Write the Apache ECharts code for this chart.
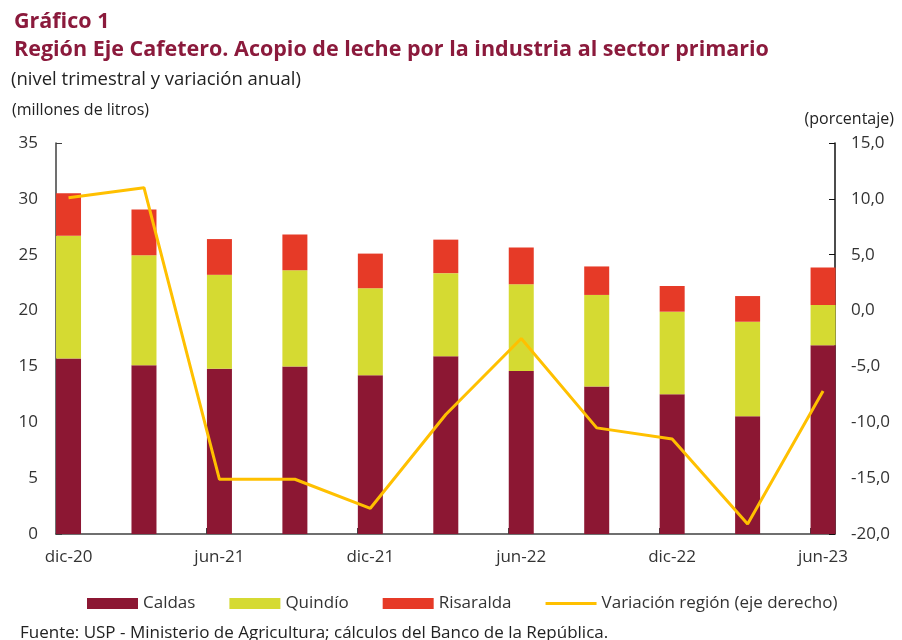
<!DOCTYPE html>
<html>
<head>
<meta charset="utf-8">
<script src="https://cdn.jsdelivr.net/npm/echarts@6/dist/echarts.min.js"></script>
<style>
html,body{margin:0;padding:0;background:#fff;}
#c{width:902px;height:640px;}
</style>
</head>
<body>
<div id="c"></div>
<script>
const categories = ['dic-20','mar-21','jun-21','sep-21','dic-21','mar-22','jun-22','sep-22','dic-22','mar-23','jun-23'];
const labelIdx = [0, 2, 4, 6, 8, 10];
const caldas = [15.7, 15.1, 14.8, 15.0, 14.2, 15.9, 14.6, 13.2, 12.5, 10.55, 16.9];
const quindio = [11.0, 9.85, 8.4, 8.6, 7.8, 7.45, 7.75, 8.2, 7.4, 8.45, 3.6];
const risaralda = [3.8, 4.1, 3.2, 3.2, 3.1, 3.0, 3.3, 2.55, 2.3, 2.3, 3.35];
const variacion = [10.1, 11.0, -15.1, -15.1, -17.7, -9.3, -2.5, -10.5, -11.5, -19.1, -7.2];

const FONT = '"Open Sans", Lato, sans-serif';
const halfBar = 0.17;
const TITLE_COLOR = '#8B1A3C';

const gridTop = 143, gridBottom = 106;
const chart = echarts.init(document.getElementById('c'), null, {renderer: 'canvas'});
chart.setOption({
  backgroundColor: '#fff',
  animation: false,
  title: [
    {text: 'Gráfico 1', left: 9, top: 6, textStyle: {fontFamily: FONT, fontWeight: 'bold', fontSize: 21.5, color: TITLE_COLOR}},
    {text: 'Región Eje Cafetero. Acopio de leche por la industria al sector primario', left: 9, top: 34, textStyle: {fontFamily: FONT, fontWeight: 'bold', fontSize: 21.5, color: TITLE_COLOR}},
    {text: '(nivel trimestral y variación anual)', left: 6, top: 65, textStyle: {fontFamily: FONT, fontWeight: 'normal', fontSize: 18.5, color: '#222'}},
    {text: '(millones de litros)', left: 7, top: 97, textStyle: {fontFamily: FONT, fontWeight: 'normal', fontSize: 16, color: '#222'}},
    {text: '(porcentaje)', right: 3, top: 106, textStyle: {fontFamily: FONT, fontWeight: 'normal', fontSize: 16, color: '#222'}},
    {text: 'Fuente: USP - Ministerio de Agricultura; cálculos del Banco de la República.', left: 15, top: 620, textStyle: {fontFamily: FONT, fontWeight: 'normal', fontSize: 17, color: '#222'}}
  ],
  legend: {
    left: 82, top: 590,
    itemWidth: 51, itemHeight: 11, itemGap: 34,
    textStyle: {fontFamily: FONT, fontSize: 17, color: '#333'},
    data: [
      {name: 'Caldas', icon: 'rect'},
      {name: 'Quindío', icon: 'rect'},
      {name: 'Risaralda', icon: 'rect'},
      {name: 'Variación región (eje derecho)', icon: 'path://M0 0 H17 V1 H0 Z', symbolKeepAspect: true}
    ]
  },
  grid: [
    {left: 56, right: 67, top: gridTop, bottom: gridBottom, containLabel: false},
    {left: 30.8, right: 41.2, top: gridTop, bottom: gridBottom, containLabel: false}
  ],
  xAxis: [
    {
      gridIndex: 0,
      type: 'value',
      min: -0.1657, max: 10.16,
      splitLine: {show: false},
      axisLine: {show: true, onZero: false, lineStyle: {color: '#404040', width: 1.5}},
      axisTick: {show: true, inside: true, length: 6, customValues: labelIdx.map(i => i - halfBar), lineStyle: {color: '#404040'}},
      axisLabel: {customValues: labelIdx, formatter: v => categories[Math.round(v)], margin: 15, fontFamily: FONT, fontSize: 17, color: '#333'}
    },
    {
      gridIndex: 1,
      type: 'category',
      data: categories,
      boundaryGap: true,
      show: false
    }
  ],
  yAxis: [
    {
      gridIndex: 0, type: 'value', min: 0, max: 35, interval: 5, position: 'left',
      splitLine: {show: false},
      axisLine: {show: true, onZero: false, lineStyle: {color: '#404040', width: 1.5}},
      axisTick: {show: true, inside: true, length: 6, lineStyle: {color: '#404040'}},
      axisLabel: {margin: 18, fontFamily: FONT, fontSize: 17, color: '#333'}
    },
    {
      gridIndex: 0, type: 'value', min: -20, max: 15, interval: 5, position: 'right',
      splitLine: {show: false},
      axisLine: {show: true, onZero: false, lineStyle: {color: '#111', width: 1.5}},
      axisTick: {show: true, inside: true, length: 6, lineStyle: {color: '#111'}},
      axisLabel: {margin: 16, fontFamily: FONT, fontSize: 17, color: '#333', formatter: v => v.toFixed(1).replace('.', ',')}
    },
    {gridIndex: 1, type: 'value', min: 0, max: 35, show: false, splitLine: {show: false}},
    {gridIndex: 1, type: 'value', min: -20, max: 15, show: false, splitLine: {show: false}}
  ],
  series: [
    {name: 'Caldas', type: 'bar', stack: 'a', xAxisIndex: 1, yAxisIndex: 2, barWidth: 25, data: caldas, itemStyle: {color: '#8C1733'}},
    {name: 'Quindío', type: 'bar', stack: 'a', xAxisIndex: 1, yAxisIndex: 2, barWidth: 25, data: quindio, itemStyle: {color: '#D5DA32'}},
    {name: 'Risaralda', type: 'bar', stack: 'a', xAxisIndex: 1, yAxisIndex: 2, barWidth: 25, data: risaralda, itemStyle: {color: '#E63A27'}},
    {name: 'Variación región (eje derecho)', type: 'line', xAxisIndex: 1, yAxisIndex: 3, data: variacion, showSymbol: false, symbol: 'none', lineStyle: {color: '#FFC000', width: 3}, itemStyle: {color: '#FFC000'}, z: 5}
  ]
});
</script>
</body>
</html>
